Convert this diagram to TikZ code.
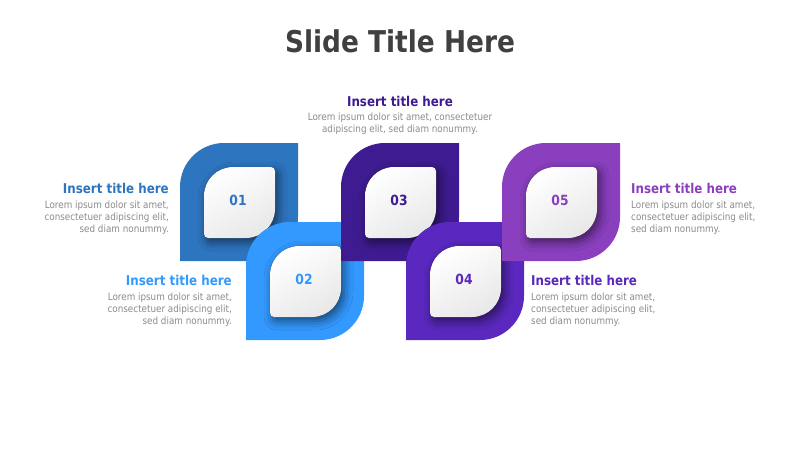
\documentclass[tikz,border=0pt]{standalone}
\usepackage{fontspec}
\setmainfont{DejaVu Sans}[FakeStretch=0.88]
\usepackage{xcolor}
\usetikzlibrary{shadows.blur}

\definecolor{titlegray}{HTML}{404040}
\definecolor{bodygray}{HTML}{8C8C8C}
\definecolor{cone}{HTML}{2E75C0}
\definecolor{ctwo}{HTML}{3399FF}
\definecolor{cthree}{HTML}{3E1B90}
\definecolor{cfour}{HTML}{5A28BE}
\definecolor{cfive}{HTML}{8A3FBF}

% leaf outline: top left x, y, side, big radius, small radius
\newcommand{\leaf}[5]{(#1,#2+#3-#5) -- (#1,#2+#4)
  arc[start angle=180, end angle=270, radius=#4] -- (#1+#3-#5,#2)
  arc[start angle=270, end angle=360, radius=#5] -- (#1+#3,#2+#3-#4)
  arc[start angle=0, end angle=90, radius=#4] -- (#1+#5,#2+#3)
  arc[start angle=90, end angle=180, radius=#5] -- cycle}

\tikzset{
  inner leaf/.style={top color=white, bottom color=black!9, shading angle=30,
    blur shadow={shadow xshift=3pt, shadow yshift=-4pt, shadow blur radius=9pt, shadow opacity=55}},
  num/.style={font=\bfseries\fontsize{14}{16}\selectfont},
  head/.style={font=\bfseries\fontsize{13.5}{15}\selectfont, inner sep=0pt},
  body/.style={font=\fontsize{10}{12}\selectfont, text=bodygray, inner sep=0pt}
}

\begin{document}
\begin{tikzpicture}[x=1pt, y=-1pt]
  \useasboundingbox (0,0) rectangle (800,450);
  \fill[white] (0,0) rectangle (800,450);

  \node[font=\bfseries\fontsize{30}{34}\selectfont, text=titlegray, anchor=base, inner sep=0pt] (title) at (400,52) {Slide Title Here};

  \foreach \x/\y/\c/\n in {180/143/cone/01, 246/222/ctwo/02, 341/143/cthree/03, 406/222/cfour/04, 502/143/cfive/05}
  {
    \fill[\c] \leaf{\x}{\y}{118}{44}{0.5};
    \fill[inner leaf] \leaf{\x+24}{\y+24}{71}{29}{4};
    \node[num, text=\c] (n\n) at (\x+58,\y+57) {\n};
  }

  % left side
  \node[head, text=cone, anchor=base east] (h1) at (169,193.5) {Insert title here};
  \node[body, anchor=north east, align=right] (b1) at (169,200.5) {Lorem ipsum dolor sit amet,\\consectetuer adipiscing elit,\\sed diam nonummy.};

  \node[head, text=ctwo, anchor=base east] (h2) at (232,285.5) {Insert title here};
  \node[body, anchor=north east, align=right] (b2) at (232,292.5) {Lorem ipsum dolor sit amet,\\consectetuer adipiscing elit,\\sed diam nonummy.};

  % top
  \node[head, text=cthree, anchor=base] (h3) at (400,106.5) {Insert title here};
  \node[body, anchor=north, align=center] (b3) at (400,112.5) {Lorem ipsum dolor sit amet, consectetuer\\adipiscing elit, sed diam nonummy.};

  % right side
  \node[head, text=cfour, anchor=base west] (h4) at (531,285.5) {Insert title here};
  \node[body, anchor=north west, align=left] (b4) at (531,292.5) {Lorem ipsum dolor sit amet,\\consectetuer adipiscing elit,\\sed diam nonummy.};

  \node[head, text=cfive, anchor=base west] (h5) at (631,193.5) {Insert title here};
  \node[body, anchor=north west, align=left] (b5) at (631,200.5) {Lorem ipsum dolor sit amet,\\consectetuer adipiscing elit,\\sed diam nonummy.};
\end{tikzpicture}
\end{document}
